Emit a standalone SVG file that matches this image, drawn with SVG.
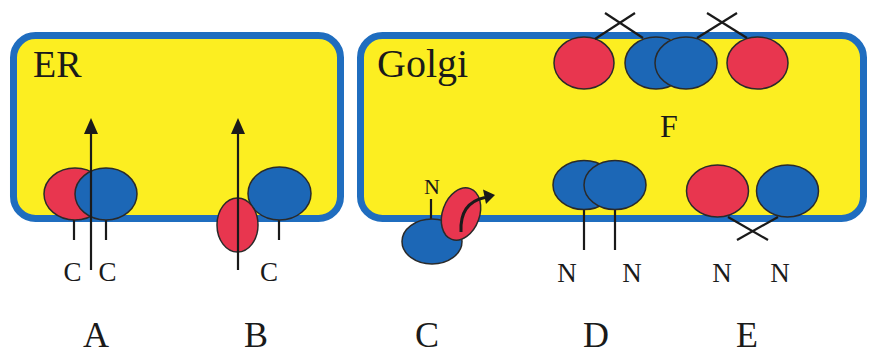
<svg xmlns="http://www.w3.org/2000/svg" width="878" height="355" viewBox="0 0 878 355">
<defs>
<style>
.box{fill:#fcee21;stroke:#1f6dbf;stroke-width:7}
.r{fill:#e8364f;stroke:#2a2a2a;stroke-width:1.5}
.b{fill:#1c67b6;stroke:#2a2a2a;stroke-width:1.5}
.ln{stroke:#1a1a1a;stroke-width:2.2;fill:none}
.t{font-family:"Liberation Serif","Times New Roman","DejaVu Serif",serif;fill:#1a1a1a}
</style>
</defs>
<g id="er">
<rect class="box" x="13.5" y="35.5" width="327" height="183" rx="22"/>
<text class="t" x="33" y="77" font-size="38">ER</text>
</g>
<g id="golgi">
<rect class="box" x="360.5" y="35.5" width="503" height="183" rx="22"/>
<text class="t" x="377" y="77" font-size="40">Golgi</text>
</g>
<g id="A">
<line class="ln" x1="74" y1="220" x2="74" y2="240"/>
<line class="ln" x1="106" y1="220" x2="106" y2="240"/>
<ellipse class="r" cx="75" cy="194" rx="31" ry="26"/>
<ellipse class="b" cx="106" cy="194" rx="31" ry="26"/>
<text class="t" x="72.5" y="281" font-size="27" text-anchor="middle">C</text>
<text class="t" x="107.5" y="281" font-size="27" text-anchor="middle">C</text>
<text class="t" x="96" y="347" font-size="36" text-anchor="middle">A</text>
</g>
<g id="B">
<line class="ln" x1="279" y1="220" x2="279" y2="240"/>
<ellipse class="b" cx="279.5" cy="193.5" rx="31.5" ry="26.5"/>
<ellipse class="r" cx="237.5" cy="225" rx="20.5" ry="27"/>
<text class="t" x="269" y="281" font-size="27" text-anchor="middle">C</text>
<text class="t" x="256" y="347" font-size="36" text-anchor="middle">B</text>
</g>
<g id="C">
<text class="t" x="432" y="194" font-size="22" text-anchor="middle">N</text>
<line class="ln" x1="431" y1="199" x2="431" y2="220"/>
<ellipse class="b" cx="432" cy="241.5" rx="30" ry="22.5"/>
<ellipse class="r" cx="461" cy="214" rx="18.5" ry="27" transform="rotate(20 461 214)"/>
<text class="t" x="427" y="347" font-size="36" text-anchor="middle">C</text>
</g>
<g id="D">
<line class="ln" x1="584" y1="209" x2="584" y2="250"/>
<line class="ln" x1="615" y1="209" x2="615" y2="250"/>
<ellipse class="b" cx="584" cy="185" rx="31" ry="24.5"/>
<ellipse class="b" cx="615" cy="185" rx="31" ry="24.5"/>
<text class="t" x="567" y="282" font-size="27" text-anchor="middle">N</text>
<text class="t" x="632" y="282" font-size="27" text-anchor="middle">N</text>
<text class="t" x="596" y="347" font-size="36" text-anchor="middle">D</text>
</g>
<g id="E">
<ellipse class="r" cx="717.5" cy="191" rx="31" ry="26"/>
<ellipse class="b" cx="787.5" cy="191" rx="31" ry="26"/>
<text class="t" x="722" y="282" font-size="27" text-anchor="middle">N</text>
<text class="t" x="780" y="282" font-size="27" text-anchor="middle">N</text>
<text class="t" x="747" y="347" font-size="36" text-anchor="middle">E</text>
</g>
<g id="F">
<ellipse class="r" cx="584" cy="63" rx="30" ry="26"/>
<ellipse class="b" cx="656" cy="63" rx="31" ry="26"/>
<ellipse class="b" cx="686" cy="63" rx="31" ry="26"/>
<ellipse class="r" cx="757.5" cy="63" rx="30.5" ry="26"/>
<text class="t" x="669" y="137" font-size="32" text-anchor="middle">F</text>
</g>
<g id="connectors">
<line class="ln" x1="91" y1="270" x2="91" y2="130"/>
<polygon points="91,118 84,134 98,134" fill="#1a1a1a"/>
<line class="ln" x1="238" y1="270" x2="238" y2="130"/>
<polygon points="238,118 231,134 245,134" fill="#1a1a1a"/>
<path d="M461,232 C460,213 468,201 485,197.5" stroke="#1a1a1a" stroke-width="3" fill="none"/>
<polygon points="495,195 483,189.5 486,204" fill="#1a1a1a"/>
<line class="ln" x1="728" y1="217" x2="768" y2="240"/>
<line class="ln" x1="778" y1="217" x2="737" y2="240"/>
<line class="ln" x1="595" y1="39" x2="635" y2="13"/>
<line class="ln" x1="643" y1="38" x2="605" y2="13"/>
<line class="ln" x1="697" y1="38" x2="737" y2="13"/>
<line class="ln" x1="747" y1="38" x2="707" y2="13"/>
</g>
</svg>
